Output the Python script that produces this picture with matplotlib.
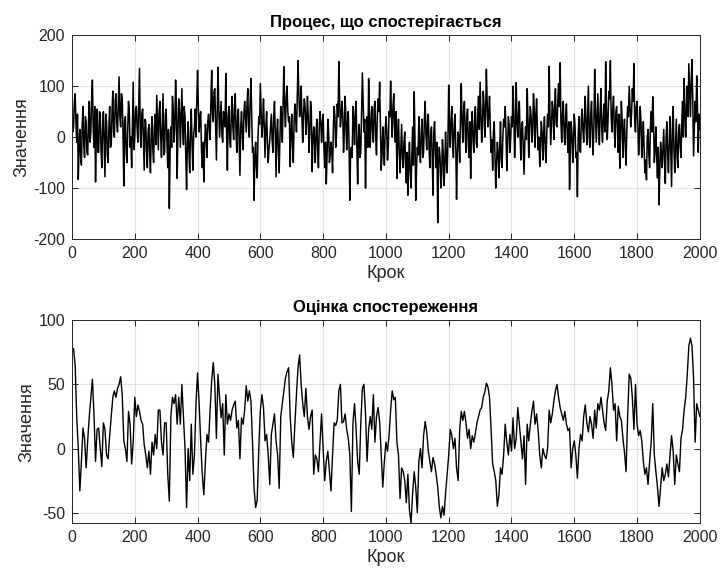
import numpy as np
import matplotlib
matplotlib.use("Agg")
import matplotlib.pyplot as plt

plt.rcParams['font.family'] = ['Liberation Sans', 'DejaVu Sans']
plt.rcParams['axes.unicode_minus'] = False

# Observed process, samples at steps 0, 5, 10, ..., 2000
observed = [
    60, 20, 85, -10, -83, 15, -55, 60, -40, 30,
    -35, 70, 10, 112, -20, -88, 55, -30, 45, -60,
    50, -78, 30, -50, 60, -15, 90, 0, 85, 10,
    118, 20, 75, -96, 40, -50, 70, -20, -60, 108,
    0, 60, -10, 135, -20, 55, -65, 30, -60, 25,
    -70, 40, -50, 45, 82, -25, 70, -40, 85, -30,
    55, -60, -140, 20, 80, -10, 112, -81, 75, -20,
    95, -15, 40, -103, 30, -70, 55, -65, 20, 0,
    131, 10, 50, -60, -88, 25, -40, 45, -5, 131,
    30, 95, -45, 137, 0, 70, -10, 40, 125, -65,
    60, -20, 80, -5, 85, -30, 55, -75, 50, -25,
    70, 10, 95, 0, 115, -30, -124, -10, -80, 40,
    105, 0, 75, -40, 50, -50, -5, 45, -30, 70,
    -78, 35, -70, 60, -10, 138, 20, 100, 30, -58,
    45, -50, 65, 10, 150, 40, 100, -10, 75, 5,
    80, -30, 70, -68, 20, -50, 35, -60, 50, -10,
    45, -60, -92, 35, -50, -10, -70, 60, -20, 65,
    148, 20, 70, -30, 80, -25, 50, -124, -20, 60,
    -15, 70, -92, 25, -30, 126, 10, -100, 40, 115,
    -20, 60, -10, 70, -35, 75, 108, -65, 20, -55,
    40, -45, 50, 110, 0, 85, -10, -81, 35, -70,
    25, -60, 10, -90, -114, -10, -100, 20, 89, -124,
    -20, 40, -50, 35, -30, 70, -25, 45, -60, 20,
    -114, 30, -60, -168, -20, -100, -5, -95, 10, -70,
    102, -20, 60, -40, 45, -122, 10, -50, 105, -10,
    70, -30, 55, -40, -81, 50, -30, 60, -20, 80,
    108, -10, 90, 0, 133, 20, 80, -30, -65, 30,
    -100, -10, -80, 30, -60, 35, 60, -66, 40, -30,
    40, 100, -40, 107, 0, 70, -45, 30, -73, 20,
    95, -40, 60, -10, 85, -20, 75, -25, -58, 30,
    -45, 40, -50, 45, 139, -15, 70, -5, 95, 20,
    105, 146, -10, 70, -15, 65, -30, -103, 30, -50,
    45, -40, -117, 40, -30, 55, -10, 80, -15, 100,
    -20, 70, -35, 133, -10, 85, -15, 95, -10, 65,
    148, -5, 90, 150, 10, 80, -20, 60, -30, -61,
    70, -40, 35, -55, 60, 100, 20, 95, 144, 10,
    70, -35, 60, -40, 30, -70, -84, 15, -60, 50,
    79, -50, 20, -80, -133, -10, -60, 15, -91, 30,
    -70, 40, -97, 60, -70, 35, -60, 25, -40, 70,
    115, 0, 100, 144, 40, 152, -37, 70, 120, -30, 15,
]

# Observed process, samples at the half steps 2.5, 7.5, ..., 1997.5
observed_half = [
    10, 70, 30, 45, -20, -40, 25, -15, 40, -30,
    30, -10, 75, 20, 60, 5, -30, 50, -25, 20,
    -10, 45, -35, 20, -20, 50, 10, 70, 30, 65,
    40, 85, 10, 30, -30, 15, 50, 0, 20, -25,
    55, 15, 60, 10, 45, -5, 35, -30, 10, -35,
    10, -25, 20, -15, 30, 50, 0, 25, -35, 45,
    -10, 15, -30, -20, 55, 20, 60, 10, 50, 35,
    20, 60, -40, -10, -30, 10, -15, 5, 55, 75,
    60, 40, -25, -10, -20, 5, 30, 15, 70, 45,
    90, 20, 40, 60, 35, 5, 50, 20, 10, 40,
    -5, 45, 20, 60, 10, 40, -10, 20, 5, 45,
    40, 65, 20, 70, 40, -20, -40, -60, 0, 25,
    50, 30, 15, 20, -10, -25, 20, -5, 40, 10,
    10, -30, 0, 40, 70, 55, 80, 50, 40, 10,
    -15, 30, 40, 75, 90, 55, 35, 45, 60, 30,
    40, 10, 50, -10, -5, 10, -25, 15, 30, 25,
    -20, -10, -40, 10, -35, -25, 15, 40, 5, 40,
    75, 40, 45, 10, 35, 25, -10, -30, -40, 35,
    50, -20, 0, -40, 45, 70, 35, 0, -20, 40,
    30, 10, 55, 0, 40, 50, 25, -35, -15, 10,
    15, -20, 40, 45, 60, 20, 50, 0, -30, -20,
    -40, -10, -55, -30, -45, -70, -40, -55, 0, -60,
    -35, -25, 10, -40, 35, 5, 30, -25, 5, -40,
    10, -30, -10, -55, -40, -75, -30, -60, -45, -10,
    20, 35, -10, 25, -20, -35, 0, 40, 30, 50,
    10, 40, -15, 30, 20, -5, 30, -10, 45, 15,
    50, 20, 65, 40, 70, 45, 20, -5, 10, -40,
    -50, -30, -20, -45, 0, 20, 10, -20, 25, 0,
    20, 45, 15, 30, 50, 0, 25, -20, -10, -5,
    35, 20, 40, 10, 55, 40, 15, 0, -20, 10,
    5, -25, 10, 20, 45, 30, 50, 60, 25, 70,
    60, 30, 45, 10, 40, 5, 30, -25, 10, -15,
    20, -30, 5, -25, 35, 15, 40, 20, 45, 0,
    45, 5, 25, 45, 40, 20, 55, 15, 40, 10,
    60, 30, 75, 40, 55, 15, 50, 20, 45, 0,
    35, 10, -20, 15, 40, 60, 45, 70, 30, 60,
    25, 5, 30, -15, -20, -45, 0, -35, 20, 10,
    30, -20, -40, -20, -65, -40, -20, -50, 0, -35,
    -10, -30, 20, -25, -15, -40, 10, -20, 30, 0,
    50, 60, 40, 90, 110, 70, 20, 30, 60, 45,
]

# Estimated observation, samples at steps 0, 5, 10, ..., 2000
estimate = [
    75, 78, 65, 25, 0, -33, -10, 16, 8, -15,
    6, 25, 40, 54, 27, -10, 15, 16, 0, -14,
    20, 15, -5, -8, 10, 25, 40, 45, 40, 47,
    50, 56, 42, 6, 0, -10, 29, 19, -12, 5,
    40, 25, 34, 29, 22, 19, 3, -5, -15, -2,
    -20, 5, -5, 11, 0, 30, 30, 5, -5, 20,
    20, -20, -41, 25, 40, 35, 42, 19, 40, 19,
    50, 25, 0, -46, 0, -25, 19, -20, -5, 35,
    59, 35, 5, -20, -36, -10, 11, 5, 30, 53,
    67, 50, 8, 58, 40, 24, 35, -5, 42, 19,
    27, 22, 30, 34, 37, 16, 22, -8, 24, 19,
    30, 49, 37, 45, 37, 5, -31, -46, -40, 0,
    30, 42, 32, 6, 11, -5, -28, 11, 19, 27,
    6, -5, -31, 25, 35, 45, 55, 60, 63, 25,
    5, -7, 19, 42, 63, 73, 50, 35, 25, 47,
    25, 15, 25, 30, -20, -5, -8, -18, 5, 27,
    0, -25, -10, -2, -18, -33, -5, 20, 18, 22,
    45, 50, 20, 21, 27, 15, 8, -5, -49, 20,
    35, 15, -10, -20, 20, 47, 50, 27, -10, 15,
    25, 15, 42, 5, 25, 32, 21, -5, -30, -10,
    5, -2, 10, 30, 45, 38, 40, 5, -5, -39,
    -15, -18, -25, -42, -20, -48, -58, -35, -18, -30,
    -50, -10, 0, -15, 10, 21, 13, -2, -10, -18,
    -7, -12, -20, -30, -45, -54, -45, -52, -35, -20,
    -5, 15, 10, 0, 8, -15, -25, 15, 29, 22,
    29, 20, 8, 15, 0, 10, 5, 12, 20, 25,
    30, 32, 40, 44, 51, 48, 40, 15, -12, -18,
    -25, -45, -36, -15, -20, -5, 19, 5, -5, 11,
    -2, 24, 0, 8, 32, 19, 5, -8, 10, -28,
    19, 6, 19, 29, 37, 19, 27, 14, -5, -15,
    0, -5, -8, 0, 30, 20, 27, 37, 45, 50,
    40, 32, 27, 22, 29, 19, 14, 16, -15, 0,
    6, -5, -23, 0, 11, 6, 25, 34, 20, 13,
    25, 19, 8, 30, 16, 35, 30, 40, 30, 20,
    14, 37, 45, 63, 50, 30, 35, 6, 33, 25,
    22, 8, -3, -18, 25, 58, 55, 40, 15, 50,
    19, 10, 14, 6, -10, -20, -15, -28, -10, 5,
    35, -5, -18, -30, -45, -30, -15, -25, -20, -12,
    -22, -5, 10, -2, -28, -5, -12, -18, 8, 15,
    30, 40, 58, 80, 86, 80, 55, 5, 35, 30, 25,
]

x_ticks = [0, 200, 400, 600, 800, 1000, 1200, 1400, 1600, 1800, 2000]
top_yticks = [-200, -100, 0, 100, 200]
bottom_yticks = [-50, 0, 50, 100]

titles = ["Процес, що спостерігається", "Оцінка спостереження"]
x_label = "Крок"
y_label = "Значення"

# Step axes for the sample lists
step = np.arange(0, 2001, 5)
step_half = np.arange(2.5, 2000, 5)

# Interleave full-step and half-step samples of the observed process
obs_steps = np.empty(len(step) + len(step_half))
obs_vals = np.empty_like(obs_steps)
obs_steps[0::2] = step
obs_steps[1::2] = step_half
obs_vals[0::2] = observed
obs_vals[1::2] = observed_half

fig = plt.figure(figsize=(7.2, 5.76), dpi=100)
ax1 = fig.add_axes([0.1, 0.585, 0.872, 0.354])
ax2 = fig.add_axes([0.1, 0.092, 0.872, 0.352])

spine_col = '#262626'
panels = [
    (ax1, obs_steps, obs_vals, top_yticks, (-200, 200), titles[0], 1.1),
    (ax2, step, estimate, bottom_yticks, (-58, 100), titles[1], 1.0),
]
for ax, xs, ys, yt, ylim, title, lw in panels:
    ax.plot(xs, ys, color='black', linewidth=lw)
    ax.set_xlim(0, 2000)
    ax.set_ylim(*ylim)
    ax.set_xticks(x_ticks)
    ax.set_yticks(yt)
    ax.grid(True, color='#e3e3e3', linewidth=0.8)
    ax.set_axisbelow(True)
    ax.tick_params(direction='in', top=True, right=True, length=4,
                   labelsize=11.5, colors=spine_col, width=0.7, pad=5)
    for s in ax.spines.values():
        s.set_color(spine_col)
        s.set_linewidth(0.7)
    ax.set_xlabel(x_label, fontsize=13, color=spine_col, labelpad=3)
    ax.set_ylabel(y_label, fontsize=13, color=spine_col, labelpad=2)
    ax.set_title(title, fontsize=12, fontweight='bold', pad=6)

fig.savefig("out.png", dpi=100)
